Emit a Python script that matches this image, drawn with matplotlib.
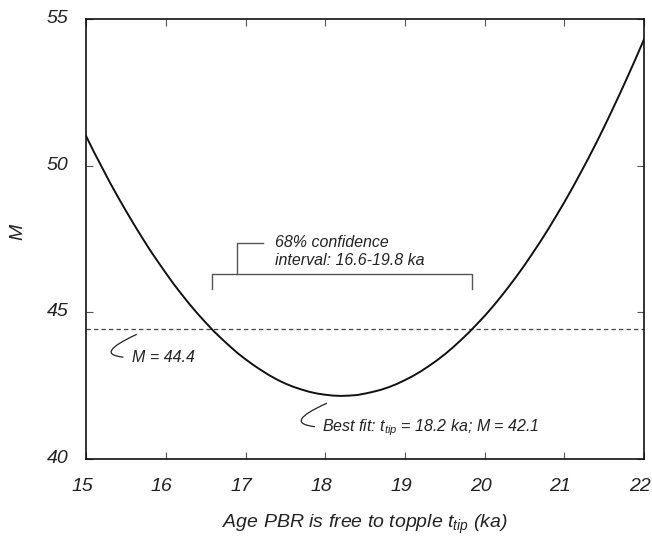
import matplotlib
matplotlib.use("Agg")
import matplotlib.pyplot as plt
import matplotlib.transforms as mtransforms
from matplotlib.path import Path
from matplotlib.patches import PathPatch

plt.rcParams['font.family'] = ['Liberation Sans', 'DejaVu Sans']
plt.rcParams['mathtext.fontset'] = 'custom'
plt.rcParams['mathtext.it'] = 'Liberation Sans:italic'
plt.rcParams['mathtext.rm'] = 'Liberation Sans:italic'

# Data
t_tip = [15.0, 15.1, 15.2, 15.3, 15.4, 15.5, 15.6, 15.7, 15.8, 15.9,
         16.0, 16.1, 16.2, 16.3, 16.4, 16.5, 16.6, 16.7, 16.8, 16.9,
         17.0, 17.1, 17.2, 17.3, 17.4, 17.5, 17.6, 17.7, 17.8, 17.9,
         18.0, 18.1, 18.2, 18.3, 18.4, 18.5, 18.6, 18.7, 18.8, 18.9,
         19.0, 19.1, 19.2, 19.3, 19.4, 19.5, 19.6, 19.7, 19.8, 19.9,
         20.0, 20.1, 20.2, 20.3, 20.4, 20.5, 20.6, 20.7, 20.8, 20.9,
         21.0, 21.1, 21.2, 21.3, 21.4, 21.5, 21.6, 21.7, 21.8, 21.9, 22.0]
M_vals = [51.01, 50.46, 49.94, 49.42, 48.93, 48.46, 48.00, 47.56, 47.13, 46.73,
          46.34, 45.96, 45.61, 45.27, 44.95, 44.65, 44.36, 44.10, 43.85, 43.61,
          43.40, 43.20, 43.02, 42.85, 42.70, 42.57, 42.46, 42.37, 42.29, 42.23,
          42.19, 42.16, 42.15, 42.16, 42.18, 42.23, 42.29, 42.36, 42.45, 42.56,
          42.69, 42.83, 42.99, 43.17, 43.36, 43.57, 43.80, 44.05, 44.31, 44.59,
          44.88, 45.19, 45.52, 45.87, 46.23, 46.61, 47.01, 47.42, 47.85, 48.30,
          48.76, 49.24, 49.74, 50.25, 50.78, 51.33, 51.90, 52.48, 53.08, 53.69, 54.32]
M_threshold = 44.43
ci_low, ci_high = 16.58, 19.84
best_t, best_M = 18.2, 42.1

x_ticks = [15, 16, 17, 18, 19, 20, 21, 22]
y_ticks = [40, 45, 50, 55]

fig = plt.figure(figsize=(6.52, 5.36), dpi=100)
ax = fig.add_axes([0.132, 0.1437, 0.856, 0.8209])

ax.plot(t_tip, M_vals, color='#111111', lw=1.4, zorder=3)
ax.axhline(M_threshold, color='#444444', lw=0.9, ls=(0, (3.5, 2.5)), zorder=2)

# confidence bracket
gray = '#555555'
ax.plot([ci_low, ci_low, ci_high, ci_high], [45.78, 46.29, 46.29, 45.78],
        color=gray, lw=1.0)
ax.plot([16.89, 16.89, 17.22], [46.29, 47.37, 47.37], color=gray, lw=1.0)
ax.text(17.37, 47.07, "68% confidence\ninterval: 16.6-19.8 ka", fontsize=11.5,
        style='italic', color='#222222', va='center', ha='left', linespacing=1.25)

# leader curves
def hook(p0, c, p1):
    path = Path([p0, c, p1], [Path.MOVETO, Path.CURVE3, Path.CURVE3])
    ax.add_patch(PathPatch(path, fc='none', ec='#222222', lw=0.9))

hook((15.636, 44.25), (15.093, 43.57), (15.468, 43.47))
ax.text(15.58, 43.45, "M = 44.4", fontsize=11.5,
        style='italic', color='#222222', va='center', ha='left')

hook((18.02, 41.90), (17.464, 41.227), (17.87, 41.10))
ax.text(17.955, 41.08, r"Best fit: $t_{tip}$ = %.1f ka; M = %.1f" % (best_t, best_M),
        fontsize=11.5, style='italic', color='#222222', va='center', ha='left')

ax.set_xlim(15, 22)
ax.set_ylim(40, 55)
ax.set_xticks(x_ticks)
ax.set_yticks(y_ticks)
ax.set_xticklabels([str(v) for v in x_ticks], style='italic', fontsize=14, color='#222222')
ax.set_yticklabels([str(v) for v in y_ticks], style='italic', fontsize=14, color='#222222')
ax.tick_params(direction='in', length=5, width=0.8, color='#555555',
               top=True, right=True)
ax.tick_params(axis='x', pad=13.5)
ax.tick_params(axis='y', pad=12.5)

xoff = mtransforms.ScaledTranslation(-0.04, 0, fig.dpi_scale_trans)
for lab in ax.get_xticklabels():
    lab.set_transform(lab.get_transform() + xoff)
yoff = mtransforms.ScaledTranslation(0, 0.025, fig.dpi_scale_trans)
for lab in ax.get_yticklabels():
    lab.set_transform(lab.get_transform() + yoff)

for s in ax.spines.values():
    s.set_linewidth(1.2)
    s.set_color('#111111')

ax.set_xlabel(r"Age PBR is free to topple $t_{tip}$ (ka)", fontsize=14, style='italic',
              color='#222222', labelpad=13)
ax.set_ylabel("M", fontsize=14, style='italic', color='#222222', va='center')
ax.yaxis.set_label_coords(-0.1227, 0.517)

fig.savefig("out.png", dpi=100)
